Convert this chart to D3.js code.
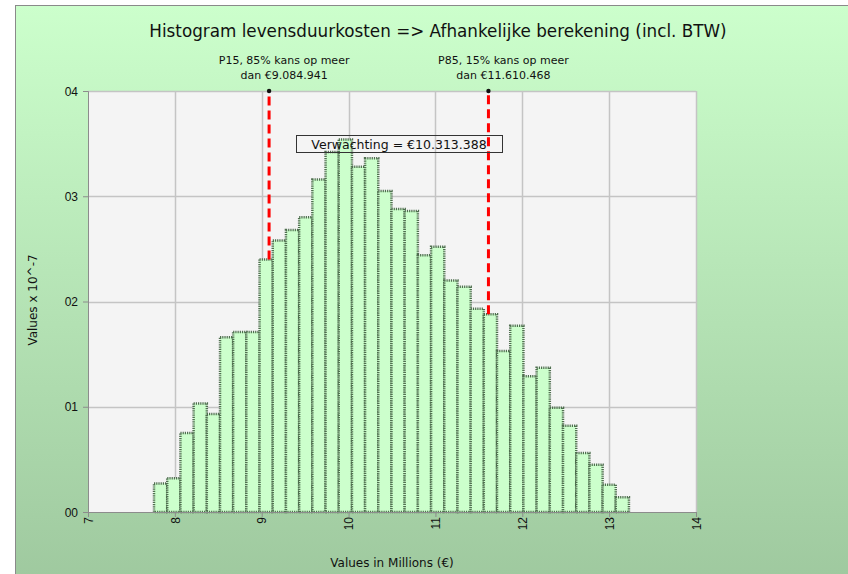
<!DOCTYPE html>
<html>
<head>
<meta charset="utf-8">
<script src="https://cdn.jsdelivr.net/npm/d3@7"></script>
<style>
  body { margin: 0; background: #fff; }
  svg { display: block; font-family: "DejaVu Sans", sans-serif; }
</style>
</head>
<body>
<script>
// histogram bins (in millions of euro) and density values (x 10^-7)
var binEdges = [7.760, 7.912, 8.064, 8.216, 8.368, 8.520, 8.671, 8.823, 8.975, 9.127,
  9.279, 9.431, 9.583, 9.735, 9.887, 10.039, 10.190, 10.342, 10.494, 10.646,
  10.798, 10.950, 11.102, 11.254, 11.406, 11.557, 11.709, 11.861, 12.013, 12.165,
  12.317, 12.469, 12.621, 12.773, 12.925, 13.076, 13.228];
var densities = [0.027, 0.032, 0.075, 0.103, 0.093, 0.166, 0.171, 0.171, 0.240, 0.258,
  0.268, 0.280, 0.316, 0.342, 0.354, 0.328, 0.336, 0.305, 0.288, 0.286,
  0.244, 0.252, 0.220, 0.214, 0.193, 0.188, 0.153, 0.177, 0.129, 0.137,
  0.099, 0.082, 0.056, 0.045, 0.026, 0.014];

var xTicks = [7, 8, 9, 10, 11, 12, 13, 14];
var yTicks = [0, 0.1, 0.2, 0.3, 0.4];
var yTickLabels = ["00", "01", "02", "03", "04"];

// percentile markers
var markers = [
  {value: 9.084941, height: 0.240, line1: "P15, 85% kans op meer", line2: "dan €9.084.941"},
  {value: 11.610468, height: 0.188, line1: "P85, 15% kans op meer", line2: "dan €11.610.468"}
];
var expectation = "Verwachting = €10.313.388";

var svgWidth = 848;
var svgHeight = 574;

var plot = {left: 88, right: 696, top: 91, bottom: 512};

var svg = d3.select("body")
  .append("svg")
  .attr("width", svgWidth)
  .attr("height", svgHeight);

// background gradient of chart area
var defs = svg.append("defs");
var grad = defs.append("linearGradient")
  .attr("id", "bg")
  .attr("x1", 0).attr("y1", 0)
  .attr("x2", 0).attr("y2", 1);
grad.append("stop").attr("offset", "0%").attr("stop-color", "#ccffcc");
grad.append("stop").attr("offset", "100%").attr("stop-color", "#9fc99f");

svg.append("rect")
  .attr("x", 15.5)
  .attr("y", 5.5)
  .attr("width", svgWidth)
  .attr("height", svgHeight)
  .attr("fill", "url(#bg)")
  .attr("stroke", "#8a8a8a")
  .attr("stroke-width", 1);

var x = d3.scaleLinear().domain([7, 14]).range([plot.left, plot.right]);
var y = d3.scaleLinear().domain([0, 0.4]).range([plot.bottom, plot.top]);

// plot area
svg.append("rect")
  .attr("x", plot.left)
  .attr("y", plot.top)
  .attr("width", plot.right - plot.left)
  .attr("height", plot.bottom - plot.top)
  .attr("fill", "#f4f4f4");

// grid lines
var grid = svg.append("g");
grid.selectAll(".vgrid")
  .data(xTicks.slice(1))
  .enter()
  .append("line")
  .attr("x1", d => Math.round(x(d)) + 0.5)
  .attr("x2", d => Math.round(x(d)) + 0.5)
  .attr("y1", plot.top)
  .attr("y2", plot.bottom)
  .attr("stroke", "#c4c4c4")
  .attr("stroke-width", 1.5);
grid.selectAll(".hgrid")
  .data(yTicks.slice(1))
  .enter()
  .append("line")
  .attr("x1", plot.left)
  .attr("x2", plot.right)
  .attr("y1", d => Math.round(y(d)) + 0.5)
  .attr("y2", d => Math.round(y(d)) + 0.5)
  .attr("stroke", "#c4c4c4")
  .attr("stroke-width", 1.5);

// bars
var bars = densities.map((d, i) => ({x0: binEdges[i], x1: binEdges[i + 1], v: d}));
svg.append("g")
  .selectAll("rect")
  .data(bars)
  .enter()
  .append("rect")
  .attr("x", d => x(d.x0))
  .attr("y", d => y(d.v))
  .attr("width", d => x(d.x1) - x(d.x0))
  .attr("height", d => y(0) - y(d.v))
  .attr("fill", "#ccffcc")
  .attr("stroke", "#4f6f4f")
  .attr("stroke-width", 2.5)
  .attr("stroke-dasharray", "1.2,1");

// axes
var leftAxis = d3.axisLeft(y)
  .tickValues(yTicks)
  .tickSize(5)
  .tickFormat((d, i) => yTickLabels[i]);
var yAxis = svg.append("g")
  .attr("transform", `translate(${plot.left}, 0)`)
  .call(leftAxis);
yAxis.select(".domain").attr("stroke", "#8c8c8c");
yAxis.selectAll(".tick line").attr("stroke", "#8c8c8c");
yAxis.selectAll("text")
  .attr("font-size", "12px")
  .attr("fill", "#111")
  .attr("x", -10)
  .attr("dy", "0.35em");

var bottomAxis = d3.axisBottom(x)
  .tickValues(xTicks)
  .tickSize(5)
  .tickFormat(d3.format("d"));
var xAxis = svg.append("g")
  .attr("transform", `translate(0, ${plot.bottom})`)
  .call(bottomAxis);
xAxis.select(".domain").attr("stroke", "#8c8c8c");
xAxis.selectAll(".tick line").attr("stroke", "#8c8c8c");
xAxis.selectAll("text")
  .attr("font-size", "12px")
  .attr("fill", "#111")
  .attr("transform", "rotate(-90)")
  .attr("text-anchor", "end")
  .attr("x", -5)
  .attr("y", 0)
  .attr("dy", "0.35em");

// percentile lines
var mk = svg.append("g");
mk.selectAll("line")
  .data(markers)
  .enter()
  .append("line")
  .attr("x1", d => x(d.value))
  .attr("x2", d => x(d.value))
  .attr("y1", d => y(d.height))
  .attr("y2", y(0.4))
  .attr("stroke", "#ff0000")
  .attr("stroke-width", 3)
  .attr("stroke-dasharray", "9,5");
mk.selectAll("circle")
  .data(markers)
  .enter()
  .append("circle")
  .attr("cx", d => x(d.value))
  .attr("cy", y(0.4))
  .attr("r", 2.2)
  .attr("fill", "#111");
mk.selectAll(".l1")
  .data(markers)
  .enter()
  .append("text")
  .attr("x", d => x(d.value) + 15)
  .attr("y", 64)
  .attr("text-anchor", "middle")
  .attr("font-size", "11px")
  .attr("fill", "#111")
  .text(d => d.line1);
mk.selectAll(".l2")
  .data(markers)
  .enter()
  .append("text")
  .attr("x", d => x(d.value) + 15)
  .attr("y", 79)
  .attr("text-anchor", "middle")
  .attr("font-size", "11px")
  .attr("fill", "#111")
  .text(d => d.line2);

// expectation box
svg.append("rect")
  .attr("x", 296.5)
  .attr("y", 135.5)
  .attr("width", 206)
  .attr("height", 17)
  .attr("fill", "none")
  .attr("stroke", "#333")
  .attr("stroke-width", 1);
svg.append("text")
  .attr("x", 399)
  .attr("y", 149)
  .attr("text-anchor", "middle")
  .attr("font-size", "12.5px")
  .attr("fill", "#111")
  .text(expectation);

// title and axis labels
svg.append("text")
  .attr("x", 438)
  .attr("y", 37)
  .attr("text-anchor", "middle")
  .attr("font-size", "16.8px")
  .attr("fill", "#111")
  .text("Histogram levensduurkosten => Afhankelijke berekening (incl. BTW)");

svg.append("text")
  .attr("x", 392)
  .attr("y", 567)
  .attr("text-anchor", "middle")
  .attr("font-size", "12px")
  .attr("fill", "#111")
  .text("Values in Millions (€)");

svg.append("text")
  .attr("transform", "translate(37, 300) rotate(-90)")
  .attr("text-anchor", "middle")
  .attr("font-size", "12px")
  .attr("fill", "#111")
  .text("Values x 10^-7");
</script>
</body>
</html>
